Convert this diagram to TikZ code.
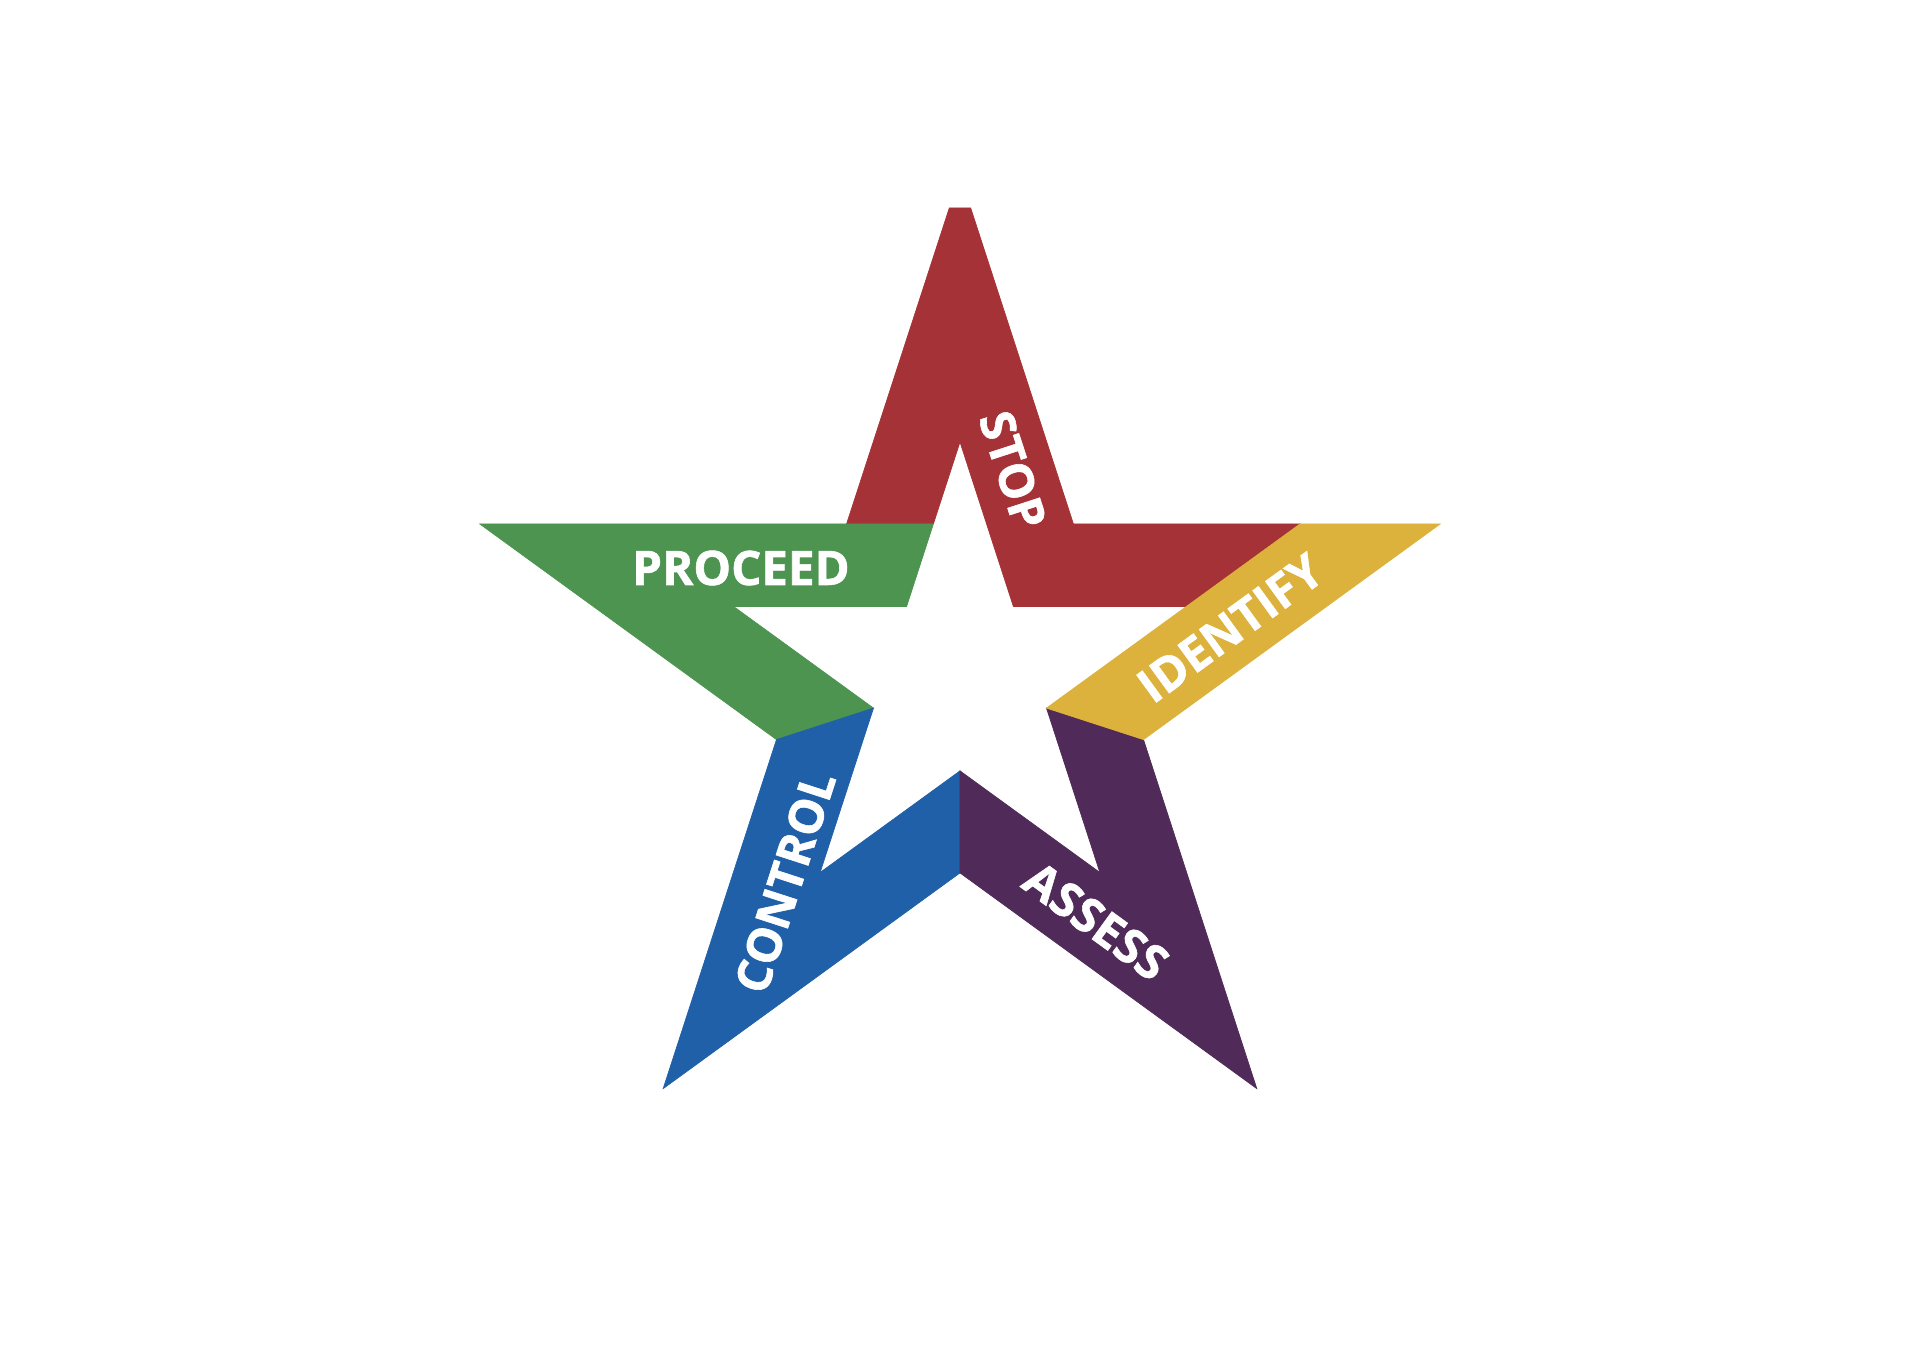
\documentclass[tikz,border=0pt]{standalone}
\usepackage{fontspec}
\newfontfamily\labfont{Open Sans}[BoldFeatures={FakeBold=1.2}]
\newcommand\labtext[1]{{\labfont\bfseries\fontsize{13.5}{15}\selectfont #1}}
\definecolor{starred}{RGB}{165,50,54}
\definecolor{stargreen}{RGB}{76,148,80}
\definecolor{starblue}{RGB}{32,96,168}
\definecolor{starpurple}{RGB}{80,42,88}
\definecolor{staryellow}{RGB}{220,178,60}
\begin{document}
\begin{tikzpicture}[x=0.01cm,y=0.01cm,
  lab/.style={text=white},
  band/.style={fill=#1,draw=#1,line width=0.2pt,line join=miter}]
\useasboundingbox (-960,-677) rectangle (960,680);
% outer star
\coordinate (TL) at (-10.7,472);
\coordinate (TR) at (10.7,472);
\coordinate (RT) at (480.3,156.1);
\coordinate (LT) at (-480.3,156.1);
\coordinate (BR) at (296.8,-408.6);
\coordinate (BL) at (-296.8,-408.6);
\coordinate (I54) at (113.4,156.1);
\coordinate (I126) at (-113.4,156.1);
\coordinate (I198) at (-183.5,-59.6);
\coordinate (I270) at (0,-192.9);
\coordinate (I342) at (183.5,-59.6);
% hole star
\coordinate (H90) at (0,238);
\coordinate (H18) at (226.4,73.5);
\coordinate (H162) at (-226.4,73.5);
\coordinate (H234) at (-139.9,-192.5);
\coordinate (H306) at (139.9,-192.5);
\coordinate (h54) at (53.4,73.5);
\coordinate (h126) at (-53.4,73.5);
\coordinate (h198) at (-86.5,-28.1);
\coordinate (h270) at (0,-90.9);
\coordinate (h342) at (86.5,-28.1);
% extra points
\coordinate (P1) at (-26.6,156.1);
\coordinate (P2) at (340.1,156.1);
% bands
\path[band=starred] (TL) -- (TR) -- (I54) -- (P2) -- (H18) -- (h54) -- (H90) -- (P1) -- (I126) -- cycle;
\path[band=stargreen] (LT) -- (P1) -- (h126) -- (H162) -- (h198) -- (I198) -- cycle;
\path[band=starblue] (I198) -- (h198) -- (H234) -- (h270) -- (I270) -- (BL) -- cycle;
\path[band=starpurple] (h270) -- (H306) -- (h342) -- (I342) -- (BR) -- (I270) -- cycle;
\path[band=staryellow] (h342) -- (P2) -- (RT) -- (I342) -- cycle;
% labels
\node[lab,rotate=-72] (stop) at (53,210) {\labtext{STOP}};
\node[lab] (proceed) at (-219,112) {\labtext{PROCEED}};
\node[lab,rotate=36] (identify) at (270,52) {\labtext{IDENTIFY}};
\node[lab,rotate=-36] (assess) at (136,-241) {\labtext{ASSESS}};
\node[lab,rotate=72] (control) at (-175,-202) {\labtext{CONTROL}};
\end{tikzpicture}
\end{document}
